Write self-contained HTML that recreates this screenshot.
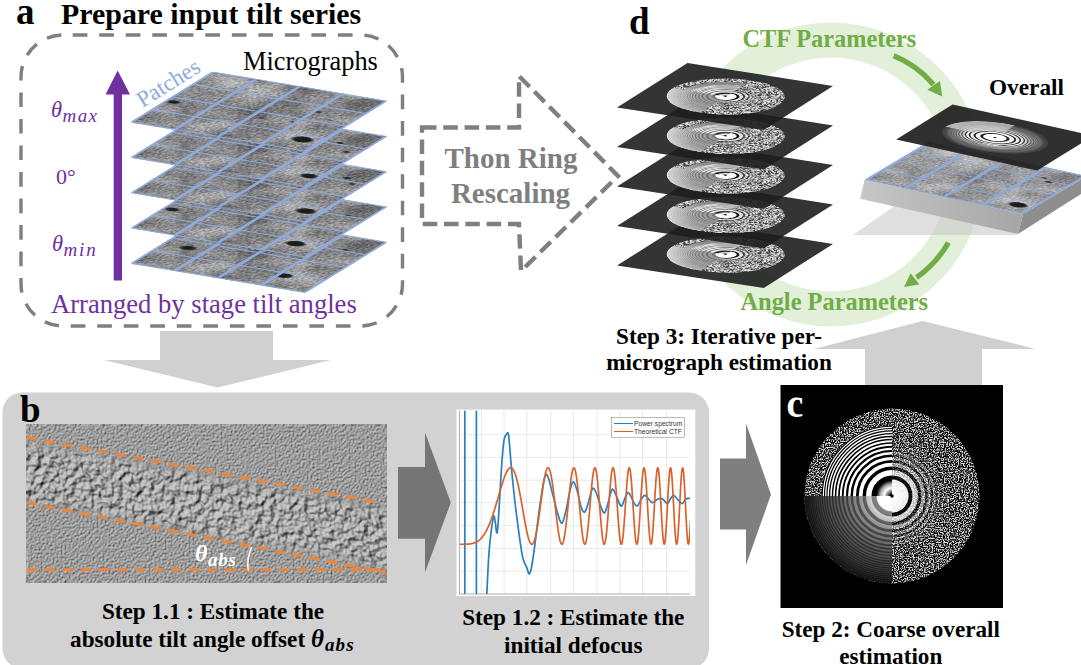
<!DOCTYPE html>
<html lang="en"><head><meta charset="utf-8"><title>Figure</title>
<style>
html,body{margin:0;padding:0;background:#fff;overflow:hidden}
svg{display:block}
text{font-family:"Liberation Serif", serif;}
</style></head><body>
<svg width="1081" height="665" viewBox="0 0 1081 665">
<defs>
<filter id="fMicro" x="0" y="0" width="100%" height="100%" color-interpolation-filters="sRGB">
  <feTurbulence type="fractalNoise" baseFrequency="0.7 0.4" numOctaves="3" seed="3" result="a0"/>
  <feColorMatrix in="a0" type="matrix" values="1 0 0 0 0  1 0 0 0 0  1 0 0 0 0  0 0 0 0 1" result="a"/>
  <feTurbulence type="fractalNoise" baseFrequency="0.045 0.03" numOctaves="2" seed="8" result="b0"/>
  <feColorMatrix in="b0" type="matrix" values="1 0 0 0 0  1 0 0 0 0  1 0 0 0 0  0 0 0 0 1" result="b"/>
  <feComposite in="a" in2="b" operator="arithmetic" k1="0" k2="0.5" k3="0.58" k4="-0.005" result="c"/>
  <feColorMatrix in="c" type="matrix" values="1 0 0 0 0  1 0 0 0 0  1 0 0 0 0.01  0 0 0 0 1"/>
</filter>
<filter id="fSpeck" x="0" y="0" width="100%" height="100%" color-interpolation-filters="sRGB">
  <feTurbulence type="fractalNoise" baseFrequency="0.7" numOctaves="2" seed="11" result="n"/>
  <feColorMatrix in="n" type="matrix" values="1 0 0 0 0  1 0 0 0 0  1 0 0 0 0  0 0 0 0 1"/>
  <feComponentTransfer><feFuncR type="table" tableValues="0 0 0 0 0.02 0.3 0.72 0.88 0.9 0.9 0.9"/><feFuncG type="table" tableValues="0 0 0 0 0.02 0.3 0.72 0.88 0.9 0.9 0.9"/><feFuncB type="table" tableValues="0 0 0 0 0.02 0.3 0.72 0.88 0.9 0.9 0.9"/></feComponentTransfer>
</filter>
<filter id="fSpeckS" x="0" y="0" width="100%" height="100%" color-interpolation-filters="sRGB">
  <feTurbulence type="fractalNoise" baseFrequency="1.2 0.7" numOctaves="2" seed="23" result="n"/>
  <feColorMatrix in="n" type="matrix" values="1 0 0 0 0  1 0 0 0 0  1 0 0 0 0  0 0 0 0 1"/>
  <feComponentTransfer><feFuncR type="table" tableValues="0.12 0.12 0.15 0.2 0.32 0.6 0.85 0.95 0.97 0.97 0.97"/><feFuncG type="table" tableValues="0.12 0.12 0.15 0.2 0.32 0.6 0.85 0.95 0.97 0.97 0.97"/><feFuncB type="table" tableValues="0.12 0.12 0.15 0.2 0.32 0.6 0.85 0.95 0.97 0.97 0.97"/></feComponentTransfer>
</filter>
<filter id="fTomo" x="0" y="0" width="100%" height="100%" color-interpolation-filters="sRGB">
  <feTurbulence type="fractalNoise" baseFrequency="0.5" numOctaves="2" seed="5" result="n"/>
  <feDiffuseLighting in="n" surfaceScale="1.25" diffuseConstant="1" lighting-color="#c8c8c8" result="l"><feDistantLight azimuth="225" elevation="52"/></feDiffuseLighting>
  <feGaussianBlur in="l" stdDeviation="0.45"/>
</filter>
<filter id="fTomoB" x="0" y="0" width="100%" height="100%" color-interpolation-filters="sRGB">
  <feTurbulence type="fractalNoise" baseFrequency="0.15" numOctaves="2" seed="9" result="n"/>
  <feDiffuseLighting in="n" surfaceScale="3.7" diffuseConstant="1" lighting-color="#cccccc" result="l"><feDistantLight azimuth="225" elevation="58"/></feDiffuseLighting>
  <feGaussianBlur in="l" stdDeviation="0.7"/>
</filter>
<linearGradient id="gSlab" x1="0" y1="0" x2="1" y2="0"><stop offset="0" stop-color="#c6c6c6"/><stop offset="1" stop-color="#a6a6a6"/></linearGradient><filter id="blur1"><feGaussianBlur stdDeviation="0.8"/></filter>
<filter id="blur6" x="-20%" y="-20%" width="140%" height="140%"><feGaussianBlur stdDeviation="5"/></filter>

<radialGradient id="gCore" cx="0" cy="0" r="18" gradientUnits="userSpaceOnUse">
  <stop offset="0" stop-color="#000"/><stop offset="0.12" stop-color="#111"/><stop offset="0.5" stop-color="#fff"/>
  <stop offset="0.75" stop-color="#aaa"/><stop offset="1" stop-color="#000"/>
</radialGradient>
<radialGradient id="gAvg" cx="0" cy="0" r="100" gradientUnits="userSpaceOnUse">
  <stop offset="0" stop-color="#fff"/><stop offset="0.2" stop-color="#e8e8e8"/><stop offset="0.38" stop-color="#8c8c8c"/><stop offset="0.6" stop-color="#606060"/>
  <stop offset="0.85" stop-color="#3a3a3a"/><stop offset="1" stop-color="#181818"/>
</radialGradient>
<radialGradient id="gAvgS" cx="0" cy="0" r="100" gradientUnits="userSpaceOnUse">
  <stop offset="0" stop-color="#fff"/><stop offset="0.25" stop-color="#999"/><stop offset="0.5" stop-color="#a8a8a8"/>
  <stop offset="0.8" stop-color="#cfcfcf"/><stop offset="1" stop-color="#f0f0f0"/>
</radialGradient>
<radialGradient id="gFade" cx="0" cy="0" r="100" gradientUnits="userSpaceOnUse">
  <stop offset="0" stop-color="#fff" stop-opacity="0"/><stop offset="0.2" stop-color="#fff" stop-opacity="0.1"/><stop offset="0.35" stop-color="#fff" stop-opacity="0.5"/>
  <stop offset="0.65" stop-color="#fff" stop-opacity="1"/><stop offset="1" stop-color="#fff" stop-opacity="1"/>
</radialGradient>
<mask id="mFade" maskUnits="userSpaceOnUse" x="-100" y="-100" width="200" height="200"><rect x="-100" y="-100" width="200" height="200" fill="url(#gFade)"/></mask>
<clipPath id="cDisc"><circle cx="0" cy="0" r="100"/></clipPath>
<clipPath id="cTL"><rect x="-100" y="-100" width="100" height="100"/></clipPath>
<clipPath id="cBL"><rect x="-100" y="0" width="100" height="100"/></clipPath>
<clipPath id="cR"><rect x="0" y="-100" width="100" height="200"/></clipPath>
<g id="psBig"><g clip-path="url(#cDisc)"><rect x="-100" y="-100" width="200" height="200" filter="url(#fSpeck)"/><g clip-path="url(#cR)"><circle r="66" fill="#fff"/><g fill="none" stroke="#000"><circle r="20.57" stroke-width="5.71"/><circle r="31.66" stroke-width="3.96"/><circle r="39.58" stroke-width="3.21"/><circle r="45.99" stroke-width="2.74"/><circle r="51.46" stroke-width="2.4"/><circle r="56.27" stroke-width="2.15"/><circle r="60.57" stroke-width="1.95"/><circle r="64.47" stroke-width="1.78"/></g><circle r="19" fill="#fff"/><rect x="-100" y="-100" width="200" height="200" filter="url(#fSpeck)" mask="url(#mFade)"/></g><g clip-path="url(#cBL)"><circle r="100" fill="url(#gAvg)"/><g opacity="1.0"><g fill="none" stroke="#000" stroke-opacity="0.45"><circle r="20.57" stroke-width="5.71"/><circle r="31.66" stroke-width="3.96"/><circle r="39.58" stroke-width="3.21"/><circle r="45.99" stroke-width="2.74"/><circle r="51.46" stroke-width="2.4"/><circle r="56.27" stroke-width="2.15"/><circle r="60.57" stroke-width="1.95"/><circle r="64.47" stroke-width="1.78"/><circle r="68.03" stroke-width="1.64"/><circle r="71.31" stroke-width="1.51"/><circle r="74.34" stroke-width="1.41"/><circle r="77.15" stroke-width="1.31"/><circle r="79.77" stroke-width="1.25"/><circle r="82.27" stroke-width="1.21"/><circle r="84.69" stroke-width="1.18"/><circle r="87.05" stroke-width="1.15"/><circle r="89.34" stroke-width="1.12"/><circle r="91.58" stroke-width="1.09"/><circle r="93.77" stroke-width="1.07"/><circle r="95.9" stroke-width="1.04"/><circle r="97.99" stroke-width="1.02"/></g></g><circle r="17" fill="#fff"/></g><g clip-path="url(#cTL)"><circle r="80" fill="#fff"/><g opacity="1.0"><g fill="none" stroke="#000"><circle r="20.57" stroke-width="5.71"/><circle r="31.66" stroke-width="3.96"/><circle r="39.58" stroke-width="3.21"/><circle r="45.99" stroke-width="2.74"/><circle r="51.46" stroke-width="2.4"/><circle r="56.27" stroke-width="2.15"/><circle r="60.57" stroke-width="1.95"/><circle r="64.47" stroke-width="1.78"/><circle r="68.03" stroke-width="1.64"/><circle r="71.31" stroke-width="1.51"/><circle r="74.34" stroke-width="1.41"/><circle r="77.15" stroke-width="1.31"/><circle r="79.77" stroke-width="1.25"/></g></g><circle r="20" fill="url(#gCore)"/></g><circle r="2" fill="#000"/></g></g><g id="psSmall"><g clip-path="url(#cDisc)"><rect x="-100" y="-100" width="200" height="200" filter="url(#fSpeckS)"/><g clip-path="url(#cR)"><circle r="66" fill="#fff"/><g fill="none" stroke="#000"><circle r="20.57" stroke-width="5.71"/><circle r="31.66" stroke-width="3.96"/><circle r="39.58" stroke-width="3.21"/><circle r="45.99" stroke-width="2.74"/><circle r="51.46" stroke-width="2.4"/><circle r="56.27" stroke-width="2.15"/><circle r="60.57" stroke-width="1.95"/><circle r="64.47" stroke-width="1.78"/></g><circle r="19" fill="#fff"/><rect x="-100" y="-100" width="200" height="200" filter="url(#fSpeckS)" mask="url(#mFade)"/></g><g clip-path="url(#cBL)"><circle r="100" fill="url(#gAvgS)"/><g opacity="0.6"><g fill="none" stroke="#000" stroke-opacity="0.45"><circle r="20.57" stroke-width="5.71"/><circle r="31.66" stroke-width="3.96"/><circle r="39.58" stroke-width="3.21"/><circle r="45.99" stroke-width="2.74"/><circle r="51.46" stroke-width="2.4"/><circle r="56.27" stroke-width="2.15"/><circle r="60.57" stroke-width="1.95"/><circle r="64.47" stroke-width="1.78"/><circle r="68.03" stroke-width="1.64"/><circle r="71.31" stroke-width="1.51"/><circle r="74.34" stroke-width="1.41"/><circle r="77.15" stroke-width="1.31"/><circle r="79.77" stroke-width="1.25"/><circle r="82.27" stroke-width="1.21"/><circle r="84.69" stroke-width="1.18"/><circle r="87.05" stroke-width="1.15"/><circle r="89.34" stroke-width="1.12"/><circle r="91.58" stroke-width="1.09"/><circle r="93.77" stroke-width="1.07"/><circle r="95.9" stroke-width="1.04"/><circle r="97.99" stroke-width="1.02"/></g></g><circle r="17" fill="#fff"/></g><g clip-path="url(#cTL)"><circle r="80" fill="#fff"/><g opacity="0.6"><g fill="none" stroke="#000"><circle r="20.57" stroke-width="5.71"/><circle r="31.66" stroke-width="3.96"/><circle r="39.58" stroke-width="3.21"/><circle r="45.99" stroke-width="2.74"/><circle r="51.46" stroke-width="2.4"/><circle r="56.27" stroke-width="2.15"/><circle r="60.57" stroke-width="1.95"/><circle r="64.47" stroke-width="1.78"/><circle r="68.03" stroke-width="1.64"/><circle r="71.31" stroke-width="1.51"/><circle r="74.34" stroke-width="1.41"/><circle r="77.15" stroke-width="1.31"/><circle r="79.77" stroke-width="1.25"/></g></g><circle r="20" fill="url(#gCore)"/></g><circle r="2" fill="#000"/></g></g>
<radialGradient id="gOver" cx="0" cy="0" r="100" gradientUnits="userSpaceOnUse">
  <stop offset="0" stop-color="#fff"/><stop offset="0.3" stop-color="#ccc"/><stop offset="0.6" stop-color="#8a8a8a"/>
  <stop offset="0.85" stop-color="#555"/><stop offset="1" stop-color="#3c3c3c"/>
</radialGradient>
<radialGradient id="gRFade" cx="0" cy="0" r="100" gradientUnits="userSpaceOnUse">
  <stop offset="0" stop-color="#fff" stop-opacity="1"/><stop offset="0.42" stop-color="#fff" stop-opacity="1"/>
  <stop offset="0.5" stop-color="#fff" stop-opacity="1"/><stop offset="0.7" stop-color="#fff" stop-opacity="0.3"/><stop offset="0.9" stop-color="#fff" stop-opacity="0.08"/><stop offset="1" stop-color="#fff" stop-opacity="0"/>
</radialGradient>
<mask id="mRFade" maskUnits="userSpaceOnUse" x="-100" y="-100" width="200" height="200"><rect x="-100" y="-100" width="200" height="200" fill="url(#gRFade)"/></mask>
<radialGradient id="gWedge" cx="0" cy="0" r="100" gradientUnits="userSpaceOnUse">
  <stop offset="0" stop-color="#ccc" stop-opacity="0"/><stop offset="0.36" stop-color="#ccc" stop-opacity="0"/>
  <stop offset="0.52" stop-color="#cacaca" stop-opacity="0.9"/><stop offset="1" stop-color="#c4c4c4" stop-opacity="1"/>
</radialGradient>
<g id="psOver"><g clip-path="url(#cDisc)"><circle r="100" fill="url(#gOver)"/><g mask="url(#mRFade)"><circle r="90" fill="#fff" fill-opacity="0.85"/><g fill="none" stroke="#000" stroke-opacity="0.85"><circle r="24.69" stroke-width="5.71"/><circle r="37.99" stroke-width="3.96"/><circle r="47.49" stroke-width="3.21"/><circle r="55.19" stroke-width="2.74"/><circle r="61.76" stroke-width="2.4"/><circle r="67.52" stroke-width="2.15"/><circle r="72.69" stroke-width="1.95"/><circle r="77.36" stroke-width="1.78"/><circle r="81.64" stroke-width="1.64"/></g></g><g clip-path="url(#cTL)"><circle r="100" fill="url(#gWedge)"/><g fill="none" stroke="#000" stroke-opacity="0.12"><circle r="61.76" stroke-width="2.4"/><circle r="67.52" stroke-width="2.15"/><circle r="72.69" stroke-width="1.95"/><circle r="77.36" stroke-width="1.78"/><circle r="81.64" stroke-width="1.64"/><circle r="85.57" stroke-width="1.51"/><circle r="89.21" stroke-width="1.41"/><circle r="92.58" stroke-width="1.31"/><circle r="95.72" stroke-width="1.25"/><circle r="98.72" stroke-width="1.21"/></g></g><circle r="20.5" fill="#fff"/><circle r="3" fill="#000"/></g></g><g id="mgBase"><rect x="0" y="0" width="100" height="100" filter="url(#fMicro)"/></g><g id="mgGrid" stroke="#8faadc" fill="none"><line x1="0" y1="0" x2="0" y2="100" stroke-width="1.5"/><line x1="0" y1="0" x2="100" y2="0" stroke-width="1.5"/><line x1="25" y1="0" x2="25" y2="100" stroke-width="2.3"/><line x1="0" y1="25" x2="100" y2="25" stroke-width="1.6"/><line x1="50" y1="0" x2="50" y2="100" stroke-width="2.3"/><line x1="0" y1="50" x2="100" y2="50" stroke-width="1.6"/><line x1="75" y1="0" x2="75" y2="100" stroke-width="2.3"/><line x1="0" y1="75" x2="100" y2="75" stroke-width="1.6"/><line x1="100" y1="0" x2="100" y2="100" stroke-width="1.5"/><line x1="0" y1="100" x2="100" y2="100" stroke-width="1.5"/></g><mask id="mBand" maskUnits="userSpaceOnUse" x="26" y="424" width="361" height="159"><polygon points="10,440 400,512 400,570 10,498" fill="#fff" filter="url(#blur6)"/></mask><clipPath id="cTomo"><rect x="26" y="424" width="361" height="159"/></clipPath><clipPath id="cPlot"><rect x="459.4" y="410.7" width="230.60000000000002" height="183.3"/></clipPath></defs>
<rect x="2.5" y="392.5" width="706.5" height="276" rx="20" ry="20" fill="#d2d2d2"/>
<polygon points="160,331 273,331 273,360 331,360 217.5,387.5 104,360 160,360" fill="#d0d0d0"/>
<polygon points="922.6,321 1036,349 982,349 982,386 865,386 865,349 813.6,349" fill="#d0d0d0"/>
<polygon points="398,467 425,467 425,432.5 450.8,502.5 425,572.5 425,538.8 398,538.8" fill="#757575"/>
<polygon points="720,458.5 746,458.5 746,423.5 771,494.5 746,565 746,529.5 720,529.5" fill="#7f7f7f"/>
<text x="16" y="24" font-size="37" font-weight="bold" font-style="normal" fill="#000" text-anchor="start" >a</text>
<text x="61" y="24" font-size="29.9" font-weight="bold" font-style="normal" fill="#000" text-anchor="start" >Prepare input tilt series</text>
<rect x="21" y="35" width="381.5" height="291" rx="42" ry="42" fill="none" stroke="#7f7f7f" stroke-width="3.4" stroke-dasharray="14.7 11.8186" stroke-dashoffset="-9.7"/>
<text x="243" y="69.6" font-size="26.4" font-weight="normal" font-style="normal" fill="#000" text-anchor="start" >Micrographs</text>
<text x="51" y="313" font-size="26.6" font-weight="normal" font-style="normal" fill="#7030a0" text-anchor="start" >Arranged by stage tilt angles</text>
<polygon points="113.7,280.5 113.7,94.5 105.5,94.5 117.7,70.5 130,94.5 122,94.5 122,280.5" fill="#7030a0"/>
<text x="51" y="117" font-size="22.5" font-style="italic" font-weight="normal" fill="#7030a0">θ<tspan dy="4.8" dx="0.5" font-size="19" letter-spacing="1.4">max</tspan></text>
<text x="56" y="184" font-size="22" font-weight="normal" font-style="normal" fill="#7030a0" text-anchor="start" >0°</text>
<text x="52" y="251" font-size="22.5" font-style="italic" font-weight="normal" fill="#7030a0">θ<tspan dy="4.8" dx="0.5" font-size="19" letter-spacing="1.8">min</tspan></text>
<text transform="translate(142.5,108) rotate(-32)" font-size="23" fill="#8faadc">Patches</text>
<g transform="matrix(1.73000 0.29000 -0.81000 0.50000 213.00000 213.20000)"><use href="#mgBase"/><ellipse cx="14.26" cy="61.33" rx="4" ry="3.52" fill="#1c1c1c" filter="url(#blur1)"/><ellipse cx="78.16" cy="79.27" rx="4.75" ry="4.18" fill="#1c1c1c" filter="url(#blur1)"/><ellipse cx="87.11" cy="23.08" rx="1.62" ry="1.43" fill="#1c1c1c" filter="url(#blur1)"/><use href="#mgGrid"/></g>
<g transform="matrix(1.73000 0.29000 -0.81000 0.50000 213.00000 177.90000)"><use href="#mgBase"/><ellipse cx="4.86" cy="60.38" rx="3.5" ry="3.08" fill="#1c1c1c" filter="url(#blur1)"/><ellipse cx="89.43" cy="24.33" rx="1.75" ry="1.54" fill="#1c1c1c" filter="url(#blur1)"/><ellipse cx="85.89" cy="81.59" rx="5.25" ry="4.62" fill="#1c1c1c" filter="url(#blur1)"/><use href="#mgGrid"/></g>
<g transform="matrix(1.73000 0.29000 -0.81000 0.50000 213.00000 142.60000)"><use href="#mgBase"/><ellipse cx="86.98" cy="20.35" rx="2" ry="1.76" fill="#1c1c1c" filter="url(#blur1)"/><ellipse cx="93.68" cy="28.47" rx="1.62" ry="1.43" fill="#1c1c1c" filter="url(#blur1)"/><ellipse cx="92.65" cy="83.06" rx="5.25" ry="4.62" fill="#1c1c1c" filter="url(#blur1)"/><use href="#mgGrid"/></g>
<g transform="matrix(1.73000 0.29000 -0.81000 0.50000 213.00000 107.30000)"><use href="#mgBase"/><ellipse cx="84.02" cy="22.67" rx="2" ry="1.76" fill="#1c1c1c" filter="url(#blur1)"/><ellipse cx="93.38" cy="35.24" rx="1.75" ry="1.54" fill="#1c1c1c" filter="url(#blur1)"/><ellipse cx="94.23" cy="82.74" rx="4.5" ry="3.96" fill="#1c1c1c" filter="url(#blur1)"/><use href="#mgGrid"/></g>
<g transform="matrix(1.73000 0.29000 -0.81000 0.50000 213.00000 72.00000)"><use href="#mgBase"/><ellipse cx="4.36" cy="57.47" rx="3.25" ry="2.86" fill="#1c1c1c" filter="url(#blur1)"/><ellipse cx="90.39" cy="82.57" rx="5.75" ry="5.06" fill="#1c1c1c" filter="url(#blur1)"/><ellipse cx="56.15" cy="59.43" rx="1.5" ry="1.32" fill="#1c1c1c" filter="url(#blur1)"/><ellipse cx="72.73" cy="57.81" rx="1.25" ry="1.1" fill="#1c1c1c" filter="url(#blur1)"/><ellipse cx="77.19" cy="35.23" rx="1.62" ry="1.43" fill="#1c1c1c" filter="url(#blur1)"/><ellipse cx="88.54" cy="44.65" rx="1.25" ry="1.1" fill="#1c1c1c" filter="url(#blur1)"/><use href="#mgGrid"/></g>
<polygon points="422,127.5 519,127.5 519,76 618,176 521,271 519,224 422,224" fill="none" stroke="#7f7f7f" stroke-width="4.4" stroke-dasharray="14.5 6.8" stroke-linejoin="miter"/>
<text x="511" y="168" font-size="29" font-weight="bold" font-style="normal" fill="#7f7f7f" text-anchor="middle" >Thon Ring</text>
<text x="510.5" y="202.6" font-size="29" font-weight="bold" font-style="normal" fill="#7f7f7f" text-anchor="middle" >Rescaling</text>
<text x="629" y="33.75" font-size="37" font-weight="bold" font-style="normal" fill="#000" text-anchor="start" >d</text>
<circle cx="831" cy="174.5" r="134.5" fill="none" stroke="#e2f0d9" stroke-width="35"/>
<polygon points="853,235 1018,235 935,178" fill="#c9c9c9" fill-opacity="0.6"/>
<polygon points="687.5,221 833,244 763.75,288 617,265.5" fill="#1e1e1e" fill-opacity="0.9"/>
<use href="#psSmall" transform="matrix(0.53124 0.08145 -0.25521 0.16109 725.62500 254.50000)"/>
<polygon points="687.5,181.5 833,204.5 763.75,248.5 617,226" fill="#1e1e1e" fill-opacity="0.9"/>
<use href="#psSmall" transform="matrix(0.53124 0.08145 -0.25521 0.16109 725.62500 215.00000)"/>
<polygon points="687.5,142 833,165 763.75,209 617,186.5" fill="#1e1e1e" fill-opacity="0.9"/>
<use href="#psSmall" transform="matrix(0.53124 0.08145 -0.25521 0.16109 725.62500 175.50000)"/>
<polygon points="687.5,102.5 833,125.5 763.75,169.5 617,147" fill="#1e1e1e" fill-opacity="0.9"/>
<use href="#psSmall" transform="matrix(0.53124 0.08145 -0.25521 0.16109 725.62500 136.00000)"/>
<polygon points="687.5,63 833,86 763.75,130 617,107.5" fill="#1e1e1e" fill-opacity="0.9"/>
<use href="#psSmall" transform="matrix(0.53124 0.08145 -0.25521 0.16109 725.62500 96.50000)"/>
<polygon points="864.7,179.6 1023.1,214 1018,234 860.2,198.8" fill="url(#gSlab)"/>
<polygon points="1023.1,214 1087.1,176 1087.1,190 1018,234" fill="#8e8e8e"/>
<g transform="matrix(1.58400 0.34400 -0.64000 0.38000 928.70000 141.60000)"><rect x="0" y="0" width="100" height="100" fill="#8faadc"/><g transform="translate(1.2,1.2) scale(0.976)"><use href="#mgBase"/><rect x="0" y="0" width="100" height="100" fill="#fff" fill-opacity="0.15"/><ellipse cx="91.49" cy="85.34" rx="5.5" ry="5.5" fill="#1c1c1c" filter="url(#blur1)"/><ellipse cx="87.74" cy="26.37" rx="2.2" ry="2.2" fill="#1c1c1c" filter="url(#blur1)"/><ellipse cx="82.56" cy="21.05" rx="1.6" ry="1.6" fill="#1c1c1c" filter="url(#blur1)"/><use href="#mgGrid"/></g></g>
<polygon points="952.6,104.5 1093.6,135.7 1037.2,170.6 896.2,139.4" fill="#1e1e1e" fill-opacity="0.92"/>
<use href="#psOver" transform="matrix(0.49632 0.10982 -0.19853 0.12285 994.90000 137.55000)"/>
<path d="M893.7,55.8 Q916,64.6 933.5,84.5" fill="none" stroke="#70ad47" stroke-width="5.3"/>
<polygon points="942.3,96.6 927.3,89.8 939.9,81" fill="#70ad47"/>
<path d="M948.4,242.6 Q936,264 916.5,277.5" fill="none" stroke="#70ad47" stroke-width="5.3"/>
<polygon points="904,287 910.6,273.2 919.4,284.6" fill="#70ad47"/>
<text x="742.5" y="47" font-size="24.3" font-weight="bold" font-style="normal" fill="#70ad47" text-anchor="start" >CTF Parameters</text>
<text x="740.5" y="309.75" font-size="24.4" font-weight="bold" font-style="normal" fill="#70ad47" text-anchor="start" >Angle Parameters</text>
<text x="989" y="95" font-size="23.3" font-weight="bold" font-style="normal" fill="#000" text-anchor="start" >Overall</text>
<text x="719" y="343.5" font-size="23.2" font-weight="bold" font-style="normal" fill="#000" text-anchor="middle" >Step 3: Iterative per-</text>
<text x="719" y="370" font-size="23.2" font-weight="bold" font-style="normal" fill="#000" text-anchor="middle" >micrograph estimation</text>
<text x="20" y="422" font-size="37" font-weight="bold" font-style="normal" fill="#000" text-anchor="start" >b</text>
<rect x="26" y="424" width="361" height="159" filter="url(#fTomo)"/>
<g clip-path="url(#cTomo)"><rect x="26" y="424" width="361" height="159" filter="url(#fTomoB)" mask="url(#mBand)"/></g>
<g stroke="#ee8538" stroke-width="3.2" stroke-opacity="0.92" stroke-dasharray="10.5 7.5" fill="none"><line x1="27" y1="437.5" x2="379" y2="502.5"/><line x1="27" y1="502.5" x2="386" y2="572.5"/><line x1="27" y1="569.7" x2="386" y2="569.7"/></g>
<text x="195" y="561" font-size="24" font-style="italic" font-weight="bold" fill="#fff">θ<tspan dy="4.6" dx="0.5" font-size="19" letter-spacing="0.8">abs</tspan></text>
<path d="M251.7,547 Q246,560 248.5,570.7" fill="none" stroke="#fff" stroke-width="1.5"/>
<text x="213" y="619" font-size="23.2" font-weight="bold" font-style="normal" fill="#000" text-anchor="middle" >Step 1.1 : Estimate the</text>
<text x="212.5" y="646.5" font-size="23.2" font-weight="bold" text-anchor="middle">absolute tilt angle offset <tspan font-style="italic" font-size="25">θ</tspan><tspan dy="4.5" dx="1" font-size="19" letter-spacing="1.2" font-style="italic">abs</tspan></text>
<text x="573.3" y="625" font-size="23.2" font-weight="bold" font-style="normal" fill="#000" text-anchor="middle" >Step 1.2 : Estimate the</text>
<text x="573.3" y="652.8" font-size="23.2" font-weight="bold" font-style="normal" fill="#000" text-anchor="middle" >initial defocus</text>
<rect x="456.5" y="409.6" width="238.8" height="186.4" fill="#fff"/><g stroke="#e3e3e3" stroke-width="0.8"><line x1="481.36" y1="410.7" x2="481.36" y2="594"/><line x1="504.1" y1="410.7" x2="504.1" y2="594"/><line x1="526.85" y1="410.7" x2="526.85" y2="594"/><line x1="550.84" y1="410.7" x2="550.84" y2="594"/><line x1="573.58" y1="410.7" x2="573.58" y2="594"/><line x1="597.15" y1="410.7" x2="597.15" y2="594"/><line x1="619.9" y1="410.7" x2="619.9" y2="594"/><line x1="642.65" y1="410.7" x2="642.65" y2="594"/><line x1="666.63" y1="410.7" x2="666.63" y2="594"/><line x1="459.4" y1="434.67" x2="690" y2="434.67"/><line x1="459.4" y1="457.41" x2="690" y2="457.41"/><line x1="459.4" y1="480.16" x2="690" y2="480.16"/><line x1="459.4" y1="502.49" x2="690" y2="502.49"/><line x1="459.4" y1="525.65" x2="690" y2="525.65"/><line x1="459.4" y1="548.4" x2="690" y2="548.4"/><line x1="459.4" y1="571.14" x2="690" y2="571.14"/></g><path d="M459.4,410.7 V594 H690" fill="none" stroke="#9a9a9a" stroke-width="0.8"/><g clip-path="url(#cPlot)" fill="none" stroke-linejoin="round"><path d="M464.81,408.7 V596 M476.39,408.7 V596" stroke="#2a7fbf" stroke-width="1.7"/><path d="M486.32,605.05 C486.73,596.78 487.97,567.83 488.8,555.43 C489.63,543.02 490.45,537.16 491.28,530.61 C492.11,524.06 493.07,517.38 493.76,516.14 C494.45,514.9 494.94,520.41 495.42,523.17 C495.9,525.93 496.24,532.13 496.66,532.68 C497.07,533.23 497.35,533.02 497.9,526.48 C498.45,519.93 499.28,504.42 499.97,493.39 C500.66,482.36 501.35,469.27 502.03,460.31 C502.72,451.35 503.41,443.9 504.1,439.63 C504.79,435.35 505.48,435.7 506.17,434.67 C506.86,433.63 507.69,431.91 508.24,433.42 C508.79,434.94 509,438.59 509.48,443.76 C509.96,448.93 510.31,455.48 511.13,464.44 C511.96,473.4 513.2,486.5 514.44,497.53 C515.68,508.56 517.2,520.62 518.58,530.61 C519.96,540.61 521.33,551.29 522.71,557.49 C524.09,563.7 525.75,565.08 526.85,567.83 C527.95,570.59 528.5,574.38 529.33,574.04 C530.16,573.69 530.85,570.93 531.81,565.77 C532.78,560.6 533.88,552.32 535.12,543.02 C536.36,533.71 537.88,519.93 539.26,509.93 C540.63,499.94 542.29,488.91 543.39,483.05 C544.49,477.19 545.05,475.68 545.87,474.78 C546.7,473.88 547.25,474.57 548.35,477.68 C549.46,480.78 550.9,487.33 552.49,493.39 C554.07,499.46 556.28,509.11 557.87,514.07 C559.45,519.03 560.62,523.86 562,523.17 C563.38,522.48 564.76,515.59 566.14,509.93 C567.52,504.28 569.03,493.94 570.27,489.26 C571.51,484.57 572.41,481.47 573.58,481.81 C574.75,482.16 575.99,486.98 577.3,491.32 C578.61,495.67 580.2,504.42 581.44,507.87 C582.68,511.31 583.64,512.69 584.75,512 C585.85,511.31 586.95,507.18 588.06,503.73 C589.16,500.28 590.4,493.87 591.36,491.32 C592.33,488.77 592.88,487.74 593.85,488.43 C594.81,489.12 595.91,492.22 597.15,495.46 C598.4,498.7 600.05,504.97 601.29,507.87 C602.53,510.76 603.5,513.52 604.6,512.83 C605.7,512.14 606.87,507.11 607.91,503.73 C608.94,500.35 609.98,494.98 610.8,492.56 C611.63,490.15 611.97,488.77 612.87,489.26 C613.77,489.74 615.08,493.05 616.18,495.46 C617.28,497.87 618.52,502.01 619.49,503.73 C620.45,505.45 621.07,506.69 621.97,505.8 C622.86,504.9 623.83,500.56 624.86,498.35 C625.9,496.15 627.14,492.84 628.17,492.56 C629.21,492.29 630.03,494.84 631.07,496.7 C632.1,498.56 633.27,502.21 634.38,503.73 C635.48,505.25 636.58,506.49 637.68,505.8 C638.79,505.11 639.82,501.32 640.99,499.59 C642.16,497.87 643.54,495.67 644.71,495.46 C645.89,495.25 646.99,497.32 648.02,498.35 C649.06,499.39 650.09,500.97 650.92,501.66 C651.75,502.35 651.95,502.83 652.99,502.49 C654.02,502.15 655.74,500.28 657.12,499.59 C658.5,498.91 660.02,498.15 661.26,498.35 C662.5,498.56 663.53,499.94 664.57,500.84 C665.6,501.73 666.43,504.14 667.46,503.73 C668.49,503.32 669.74,499.73 670.77,498.35 C671.8,496.98 672.49,495.25 673.66,495.46 C674.84,495.67 676.42,498.22 677.8,499.59 C679.18,500.97 680.69,503.73 681.94,503.73 C683.18,503.73 684.21,500.49 685.24,499.59 C686.28,498.7 687.31,498.56 688.14,498.35 C688.97,498.15 689.86,498.35 690.21,498.35" stroke="#2a7fbf" stroke-width="1.7"/><polyline points="459.44,544.26 459.85,544.26 460.26,544.26 460.68,544.26 461.09,544.26 461.51,544.26 461.92,544.26 462.33,544.26 462.75,544.26 463.16,544.25 463.57,544.25 463.99,544.25 464.4,544.24 464.81,544.24 465.23,544.23 465.64,544.22 466.05,544.21 466.47,544.19 466.88,544.18 467.3,544.16 467.71,544.13 468.12,544.1 468.54,544.07 468.95,544.04 469.36,543.99 469.78,543.95 470.19,543.89 470.6,543.83 471.02,543.77 471.43,543.69 471.84,543.61 472.26,543.52 472.67,543.42 473.09,543.31 473.5,543.19 473.91,543.06 474.33,542.92 474.74,542.76 475.15,542.6 475.57,542.42 475.98,542.22 476.39,542.01 476.81,541.79 477.22,541.54 477.63,541.29 478.05,541.01 478.46,540.72 478.88,540.4 479.29,540.07 479.7,539.72 480.12,539.35 480.53,538.95 480.94,538.53 481.36,538.09 481.77,537.63 482.18,537.14 482.6,536.62 483.01,536.09 483.42,535.52 483.84,534.93 484.25,534.31 484.67,533.66 485.08,532.99 485.49,532.28 485.91,531.55 486.32,530.79 486.73,530 487.15,529.18 487.56,528.32 487.97,527.44 488.39,526.53 488.8,525.59 489.21,524.62 489.63,523.62 490.04,522.59 490.45,521.53 490.87,520.44 491.28,519.32 491.7,518.17 492.11,517 492.52,515.8 492.94,514.57 493.35,513.32 493.76,512.05 494.18,510.75 494.59,509.44 495,508.1 495.42,506.74 495.83,505.37 496.24,503.98 496.66,502.58 497.07,501.17 497.49,499.75 497.9,498.33 498.31,496.9 498.73,495.46 499.14,494.03 499.55,492.61 499.97,491.18 500.38,489.77 500.79,488.37 501.21,486.99 501.62,485.63 502.03,484.28 502.45,482.97 502.86,481.68 503.28,480.43 503.69,479.21 504.1,478.03 504.52,476.9 504.93,475.82 505.34,474.78 505.76,473.81 506.17,472.89 506.58,472.03 507,471.24 507.41,470.53 507.82,469.88 508.24,469.32 508.65,468.84 509.07,468.44 509.48,468.13 509.89,467.91 510.31,467.78 510.72,467.75 511.13,467.82 511.55,467.99 511.96,468.27 512.37,468.65 512.79,469.13 513.2,469.72 513.61,470.42 514.03,471.23 514.44,472.15 514.86,473.17 515.27,474.31 515.68,475.54 516.1,476.89 516.51,478.33 516.92,479.87 517.34,481.51 517.75,483.25 518.16,485.07 518.58,486.97 518.99,488.95 519.4,491.01 519.82,493.14 520.23,495.32 520.65,497.56 521.06,499.85 521.47,502.17 521.89,504.53 522.3,506.9 522.71,509.29 523.13,511.68 523.54,514.06 523.95,516.43 524.37,518.77 524.78,521.07 525.19,523.32 525.61,525.51 526.02,527.63 526.44,529.67 526.85,531.62 527.26,533.47 527.68,535.2 528.09,536.81 528.5,538.28 528.92,539.62 529.33,540.8 529.74,541.82 530.16,542.67 530.57,543.35 530.98,543.84 531.4,544.15 531.81,544.26 532.22,544.18 532.64,543.89 533.05,543.41 533.47,542.72 533.88,541.83 534.29,540.74 534.71,539.46 535.12,537.98 535.53,536.31 535.95,534.46 536.36,532.43 536.77,530.24 537.19,527.9 537.6,525.41 538.01,522.79 538.43,520.06 538.84,517.22 539.26,514.31 539.67,511.32 540.08,508.29 540.5,505.22 540.91,502.15 541.32,499.08 541.74,496.05 542.15,493.06 542.56,490.15 542.98,487.33 543.39,484.63 543.8,482.06 544.22,479.64 544.63,477.4 545.05,475.36 545.46,473.52 545.87,471.92 546.29,470.55 546.7,469.45 547.11,468.61 547.53,468.05 547.94,467.78 548.35,467.8 548.77,468.12 549.18,468.74 549.59,469.65 550.01,470.86 550.42,472.36 550.84,474.14 551.25,476.2 551.66,478.5 552.08,481.05 552.49,483.82 552.9,486.8 553.32,489.95 553.73,493.25 554.14,496.68 554.56,500.2 554.97,503.8 555.38,507.43 555.8,511.06 556.21,514.66 556.63,518.2 557.04,521.64 557.45,524.94 557.87,528.08 558.28,531.03 558.69,533.74 559.11,536.2 559.52,538.38 559.93,540.24 560.35,541.77 560.76,542.95 561.17,543.76 561.59,544.19 562,544.23 562.42,543.87 562.83,543.12 563.24,541.97 563.66,540.44 564.07,538.54 564.48,536.27 564.9,533.67 565.31,530.76 565.72,527.56 566.14,524.11 566.55,520.44 566.96,516.6 567.38,512.62 567.79,508.55 568.21,504.44 568.62,500.33 569.03,496.26 569.45,492.3 569.86,488.49 570.27,484.87 570.69,481.5 571.1,478.41 571.51,475.65 571.93,473.25 572.34,471.25 572.75,469.68 573.17,468.56 573.58,467.92 574,467.76 574.41,468.09 574.82,468.92 575.24,470.23 575.65,472.03 576.06,474.28 576.48,476.96 576.89,480.04 577.3,483.49 577.72,487.25 578.13,491.29 578.54,495.54 578.96,499.96 579.37,504.47 579.78,509.03 580.2,513.55 580.61,517.98 581.03,522.26 581.44,526.31 581.85,530.08 582.27,533.51 582.68,536.54 583.09,539.12 583.51,541.22 583.92,542.79 584.33,543.8 584.75,544.24 585.16,544.09 585.57,543.35 585.99,542.02 586.4,540.12 586.82,537.67 587.23,534.71 587.64,531.28 588.06,527.43 588.47,523.22 588.88,518.72 589.3,513.99 589.71,509.11 590.12,504.17 590.54,499.24 590.95,494.41 591.36,489.76 591.78,485.38 592.19,481.34 592.61,477.71 593.02,474.56 593.43,471.96 593.85,469.94 594.26,468.57 594.67,467.85 595.09,467.82 595.5,468.48 595.91,469.83 596.33,471.84 596.74,474.48 597.15,477.72 597.57,481.5 597.98,485.74 598.4,490.38 598.81,495.33 599.22,500.5 599.64,505.79 600.05,511.1 600.46,516.33 600.88,521.36 601.29,526.12 601.7,530.49 602.12,534.38 602.53,537.72 602.94,540.43 603.36,542.45 603.77,543.73 604.19,544.25 604.6,543.98 605.01,542.93 605.43,541.1 605.84,538.53 606.25,535.27 606.67,531.38 607.08,526.94 607.49,522.04 607.91,516.79 608.32,511.28 608.73,505.64 609.15,500 609.56,494.47 609.98,489.18 610.39,484.26 610.8,479.8 611.22,475.92 611.63,472.72 612.04,470.26 612.46,468.61 612.87,467.82 613.28,467.91 613.7,468.88 614.11,470.73 614.52,473.41 614.94,476.86 615.35,481.02 615.77,485.78 616.18,491.04 616.59,496.68 617.01,502.56 617.42,508.53 617.83,514.46 618.25,520.2 618.66,525.6 619.07,530.53 619.49,534.85 619.9,538.46 620.31,541.26 620.73,543.18 621.14,544.14 621.56,544.13 621.97,543.14 622.38,541.18 622.8,538.3 623.21,534.56 623.62,530.07 624.04,524.92 624.45,519.26 624.86,513.24 625.28,507 625.69,500.72 626.1,494.57 626.52,488.71 626.93,483.32 627.34,478.53 627.76,474.5 628.17,471.33 628.59,469.12 629,467.94 629.41,467.84 629.83,468.81 630.24,470.85 630.65,473.9 631.07,477.88 631.48,482.69 631.89,488.18 632.31,494.2 632.72,500.59 633.13,507.15 633.55,513.69 633.96,520.02 634.38,525.94 634.79,531.28 635.2,535.87 635.62,539.57 636.03,542.25 636.44,543.83 636.86,544.25 637.27,543.49 637.68,541.56 638.1,538.52 638.51,534.46 638.92,529.49 639.34,523.77 639.75,517.47 640.17,510.79 640.58,503.94 640.99,497.14 641.41,490.62 641.82,484.58 642.23,479.22 642.65,474.73 643.06,471.27 643.47,468.94 643.89,467.84 644.3,468.01 644.71,469.45 645.13,472.13 645.54,475.96 645.96,480.82 646.37,486.55 646.78,492.96 647.2,499.83 647.61,506.93 648.02,514.01 648.44,520.83 648.85,527.15 649.26,532.73 649.68,537.39 650.09,540.93 650.5,543.25 650.92,544.23 651.33,543.84 651.75,542.08 652.16,539.01 652.57,534.73 652.99,529.39 653.4,523.19 653.81,516.33 654.23,509.08 654.64,501.7 655.05,494.46 655.47,487.64 655.88,481.5 656.29,476.27 656.71,472.17 657.12,469.34 657.54,467.92 657.95,467.95 658.36,469.46 658.78,472.39 659.19,476.63 659.6,482.03 660.02,488.39 660.43,495.45 660.84,502.94 661.26,510.57 661.67,518.04 662.08,525.04 662.5,531.28 662.91,536.52 663.33,540.52 663.74,543.13 664.15,544.23 664.57,543.76 664.98,541.72 665.39,538.21 665.81,533.35 666.22,527.34 666.63,520.42 667.05,512.89 667.46,505.04 667.87,497.23 668.29,489.77 668.7,482.99 669.11,477.18 669.53,472.61 669.94,469.47 670.36,467.91 670.77,468.01 671.18,469.78 671.6,473.13 672.01,477.95 672.42,484.01 672.84,491.07 673.25,498.81 673.66,506.88 674.08,514.93 674.49,522.59 674.9,529.51 675.32,535.38 675.73,539.92 676.15,542.91 676.56,544.21 676.97,543.75 677.39,541.53 677.8,537.66 678.21,532.31 678.63,525.7 679.04,518.17 679.45,510.04 679.87,501.7 680.28,493.56 680.69,485.99 681.11,479.37 681.52,474.02 681.94,470.21 682.35,468.12 682.76,467.88 683.18,469.49 683.59,472.9 684,477.95 684.42,484.39 684.83,491.91 685.24,500.15 685.66,508.7 686.07,517.12 686.48,525 686.9,531.94 687.31,537.58 687.73,541.61 688.14,543.84 688.55,544.14 688.97,542.47 689.38,538.93 689.79,533.67 690.21,526.96 690.62,519.15" stroke="#d9622b" stroke-width="1.7"/></g><rect x="611.3" y="417.4" width="73.2" height="19.8" fill="#fff" stroke="#777" stroke-width="0.5"/><line x1="614" y1="423.5" x2="633" y2="423.5" stroke="#2a7fbf" stroke-width="1.1"/><line x1="614" y1="431.5" x2="633" y2="431.5" stroke="#d9622b" stroke-width="1.1"/><text x="634" y="425.8" font-size="6.7" fill="#333" style="font-family:'Liberation Sans',sans-serif">Power spectrum</text><text x="634" y="433.8" font-size="6.7" fill="#333" style="font-family:'Liberation Sans',sans-serif">Theoretical CTF</text>
<rect x="780.5" y="385" width="222.5" height="223" fill="#000"/>
<use href="#psBig" transform="translate(892,496) scale(0.875)"/>
<text transform="translate(786.6,416.6) scale(0.88,1)" font-size="43" font-weight="bold" fill="#fff">c</text>
<text x="890.8" y="636.5" font-size="23.2" font-weight="bold" font-style="normal" fill="#000" text-anchor="middle" >Step 2: Coarse overall</text>
<text x="890.8" y="663.5" font-size="23.2" font-weight="bold" font-style="normal" fill="#000" text-anchor="middle" >estimation</text>
</svg>
</body></html>
